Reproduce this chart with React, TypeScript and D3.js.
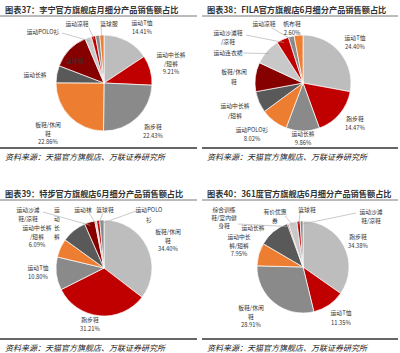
import React from "react";
import * as d3 from "d3";

const PALETTE = ["#bdbdbd", "#c00000", "#8a8a8a", "#ed7d31", "#595959", "#860000", "#c8c8c8", "#c00000", "#8a8a8a", "#ed7d31"];

// 图表37 李宁
const liningCategories = ["运动T恤", "运动中长裤/短裤", "跑步鞋", "板鞋/休闲鞋", "运动长裤", "篮球鞋", "运动POLO衫", "运动凉鞋", "其他", "篮球服"];
const liningValues = [14.41, 9.21, 22.43, 22.86, 5.3, 11.7, 2.0, 1.3, 1.3, 1.3];

// 图表38 FILA
const filaCategories = ["运动T恤", "跑步鞋", "运动长裤", "运动POLO衫", "运动中长裤/短裤", "板鞋/休闲鞋", "运动连衣裙", "运动沙滩鞋/凉鞋", "运动凉鞋", "帆布鞋"];
const filaValues = [24.4, 14.47, 9.86, 8.02, 6.3, 8.6, 7.9, 3.6, 1.7, 2.6];

// 图表39 特步
const xtepCategories = ["板鞋/休闲鞋", "跑步鞋", "运动T恤", "运动中长裤/短裤", "运动长裤", "运动沙滩鞋/凉鞋", "运动袜", "篮球鞋", "运动POLO衫"];
const xtepValues = [34.4, 31.21, 10.8, 6.09, 8.2, 3.4, 0.6, 1.0, 1.4];

// 图表40 361度
const c361Categories = ["跑步鞋", "运动T恤", "板鞋/休闲鞋", "运动中长裤/短裤", "运动长裤", "综合训练鞋/室内健身鞋", "有价优惠券", "篮球鞋", "运动沙滩鞋/凉鞋"];
const c361Values = [34.38, 11.35, 28.91, 7.95, 10.9, 0.4, 3.0, 1.1, 1.0];

const titles = [
  "图表37：李宁官方旗舰店月细分产品销售额占比",
  "图表38：FILA官方旗舰店6月细分产品销售额占比",
  "图表39：特步官方旗舰店6月细分产品销售额占比",
  "图表40：361度官方旗舰店6月细分产品销售额占比",
];
const sourceText = "资料来源：天猫官方旗舰店、万联证券研究所";

type LabelSpec = { i: number; x: number; y: number; breaks?: number[]; pct?: boolean; leader?: [number, number]; lh?: number };

const liningLabels: LabelSpec[] = [
  { i: 0, x: 142, y: 23, pct: true },
  { i: 1, x: 171, y: 55, breaks: [5], pct: true },
  { i: 2, x: 153, y: 127, pct: true },
  { i: 3, x: 48, y: 125, breaks: [5], pct: true },
  { i: 4, x: 35, y: 75 },
  { i: 5, x: 75, y: 61 },
  { i: 6, x: 43, y: 32, leader: [62, 33] },
  { i: 7, x: 77, y: 24, leader: [89, 28] },
  { i: 9, x: 109, y: 24, leader: [101, 27] },
];

const filaLabels: LabelSpec[] = [
  { i: 0, x: 355, y: 38, pct: true },
  { i: 1, x: 355, y: 119, pct: true },
  { i: 2, x: 303, y: 134, pct: true },
  { i: 3, x: 252, y: 130, pct: true },
  { i: 4, x: 235, y: 106, breaks: [5], lh: 10 },
  { i: 5, x: 234, y: 72, breaks: [5], lh: 10 },
  { i: 6, x: 228, y: 53, leader: [243, 53] },
  { i: 7, x: 228, y: 33, breaks: [5], leader: [246, 35] },
  { i: 8, x: 264, y: 24, leader: [272, 28] },
  { i: 9, x: 292, y: 24, pct: true },
];

const xtepLabels: LabelSpec[] = [
  { i: 0, x: 168, y: 232, breaks: [5], pct: true },
  { i: 1, x: 90, y: 320, pct: true },
  { i: 2, x: 38, y: 268, pct: true },
  { i: 3, x: 37, y: 228, breaks: [5], pct: true },
  { i: 4, x: 57, y: 210, breaks: [1, 2, 3], lh: 9 },
  { i: 5, x: 28, y: 210, breaks: [4], leader: [43, 212] },
  { i: 6, x: 83, y: 210, leader: [89, 213] },
  { i: 7, x: 105, y: 210, leader: [103, 213] },
  { i: 8, x: 149, y: 210, breaks: [6], leader: [136, 211], lh: 10 },
];

const c361Labels: LabelSpec[] = [
  { i: 0, x: 358, y: 237, pct: true },
  { i: 1, x: 341, y: 313, pct: true, lh: 9.5 },
  { i: 2, x: 251, y: 308, breaks: [5], pct: true },
  { i: 3, x: 239, y: 237, breaks: [4], pct: true },
  { i: 4, x: 253, y: 228 },
  { i: 5, x: 224, y: 210, breaks: [4, 9], leader: [238, 224], lh: 7.8 },
  { i: 6, x: 275, y: 212, breaks: [4], leader: [285, 216] },
  { i: 7, x: 307, y: 210, leader: [300, 213] },
  { i: 8, x: 371, y: 212, breaks: [4], leader: [356, 213] },
];

type Panel = {
  title: string; categories: string[]; values: number[]; labels: LabelSpec[];
  x0: number; x1: number; cx: number; cy: number; r: number;
  titleY: number; titleRule: number; srcRule: number; srcY: number;
};

const panels: Panel[] = [
  { title: titles[0], categories: liningCategories, values: liningValues, labels: liningLabels, x0: 0, x1: 197, cx: 104, cy: 83, r: 48, titleY: 13, titleRule: 16, srcRule: 148, srcY: 160 },
  { title: titles[1], categories: filaCategories, values: filaValues, labels: filaLabels, x0: 202, x1: 398, cx: 303, cy: 83, r: 48, titleY: 13, titleRule: 16, srcRule: 148, srcY: 160 },
  { title: titles[2], categories: xtepCategories, values: xtepValues, labels: xtepLabels, x0: 0, x1: 197, cx: 104, cy: 268, r: 48, titleY: 197, titleRule: 200, srcRule: 339, srcY: 351 },
  { title: titles[3], categories: c361Categories, values: c361Values, labels: c361Labels, x0: 202, x1: 398, cx: 303, cy: 267, r: 46, titleY: 197, titleRule: 200, srcRule: 339, srcY: 351 },
];

const FONT = "'Noto Sans CJK SC', 'Noto Sans', sans-serif";

function splitName(name: string, breaks?: number[]): string[] {
  if (!breaks || !breaks.length) return [name];
  const out: string[] = [];
  let prev = 0;
  for (const b of breaks) { out.push(name.slice(prev, b)); prev = b; }
  out.push(name.slice(prev));
  return out;
}

function PiePanel({ p }: { p: Panel }) {
  const pie = d3.pie<number>().sort(null).value((d) => d);
  const arcs = pie(p.values);
  const arc = d3.arc<d3.PieArcDatum<number>>().innerRadius(0).outerRadius(p.r);
  const color = d3.scaleOrdinal<number, string>().domain(d3.range(10)).range(PALETTE);
  return (
    <g>
      <text x={p.x0 + 5} y={p.titleY} fontFamily={FONT} fontSize={8.2} fontWeight={700} fill="#333">{p.title}</text>
      <line x1={p.x0} x2={p.x1} y1={p.titleRule} y2={p.titleRule} stroke="#555" strokeWidth={0.8} />
      <g transform={`translate(${p.cx},${p.cy})`}>
        {arcs.map((a, k) => (
          <path key={k} d={arc(a) || ""} fill={color(k)} stroke="#fff" strokeWidth={0.7} />
        ))}
      </g>
      {p.labels.map((l, k) => {
        const a = arcs[l.i];
        const lines = splitName(p.categories[l.i], l.breaks);
        if (l.pct) lines.push(`${p.values[l.i].toFixed(2)}%`);
        const lh = l.lh ?? 8.5;
        let leader = null;
        if (l.leader) {
          const mid = (a.startAngle + a.endAngle) / 2;
          const R = p.r * 0.93;
          const ex = p.cx + R * Math.sin(mid);
          const ey = p.cy - R * Math.cos(mid);
          leader = <line x1={l.leader[0]} y1={l.leader[1]} x2={ex} y2={ey} stroke="#a6a6a6" strokeWidth={0.6} />;
        }
        return (
          <g key={k}>
            {leader}
            {lines.map((t, j) => (
              <text key={j} x={l.x} y={l.y + j * lh} dy="0.35em" textAnchor="middle" fontFamily={FONT} fontSize={5.8} fill="#333">{t}</text>
            ))}
          </g>
        );
      })}
      <line x1={p.x0} x2={p.x1} y1={p.srcRule} y2={p.srcRule} stroke="#333" strokeWidth={1.5} />
      <text x={p.x0 + 5} y={p.srcY} fontFamily={FONT} fontSize={8} fontStyle="italic" fill="#222">{sourceText}</text>
    </g>
  );
}

export default function App() {
  return (
    <svg width={400} height={353} style={{ position: "absolute", left: 0, top: 0, background: "#fff" }}>
      <rect x={0} y={0} width={400} height={353} fill="#fff" />
      {panels.map((p, k) => <PiePanel key={k} p={p} />)}
    </svg>
  );
}
